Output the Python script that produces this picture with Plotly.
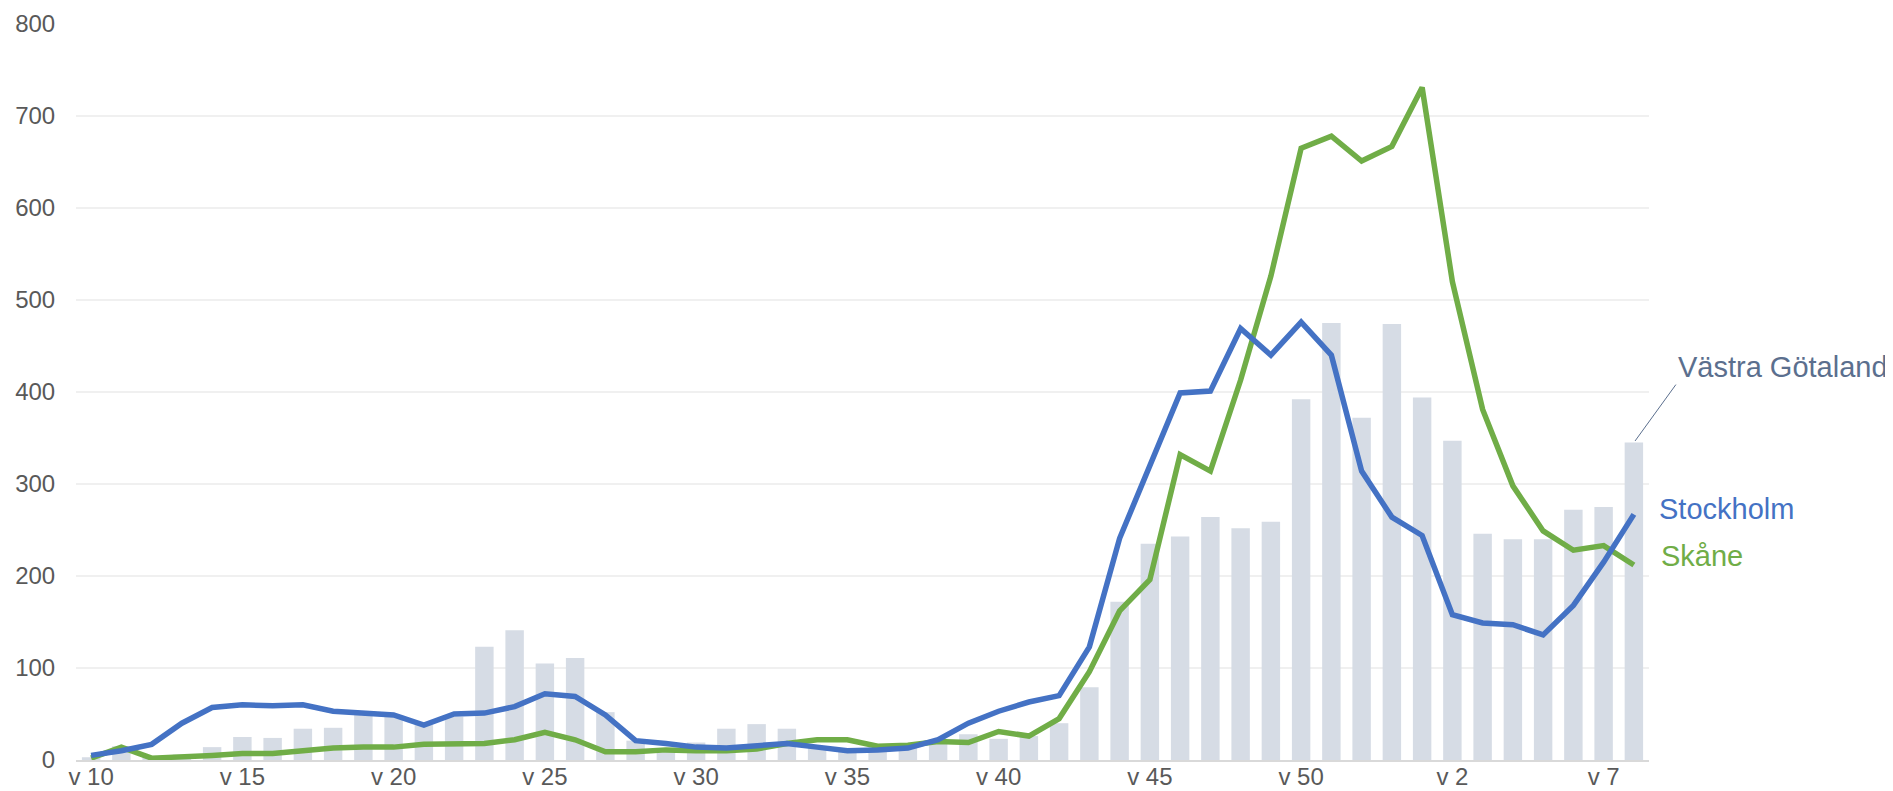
import plotly.graph_objects as go

weeks = ["v 10", "v 11", "v 12", "v 13", "v 14", "v 15", "v 16", "v 17", "v 18", "v 19",
         "v 20", "v 21", "v 22", "v 23", "v 24", "v 25", "v 26", "v 27", "v 28", "v 29",
         "v 30", "v 31", "v 32", "v 33", "v 34", "v 35", "v 36", "v 37", "v 38", "v 39",
         "v 40", "v 41", "v 42", "v 43", "v 44", "v 45", "v 46", "v 47", "v 48", "v 49",
         "v 50", "v 51", "v 52", "v 53",
         "v 1", "v 2", "v 3", "v 4", "v 5", "v 6", "v 7", "v 8"]

vastra_gotaland = [3, 15, 3, 6, 14, 25, 24, 34, 35, 49,
                   47, 38, 47, 123, 141, 105, 111, 52, 21, 13,
                   19, 34, 39, 34, 14, 11, 14, 16, 20, 28,
                   23, 26, 40, 79, 172, 235, 243, 264, 252, 259,
                   392, 475, 372, 474,
                   394, 347, 246, 240, 240, 272, 275, 345]

stockholm = [5, 10, 17, 40, 57, 60, 59, 60, 53, 51,
             49, 38, 50, 51, 58, 72, 69, 49, 21, 18,
             14, 13, 15, 18, 14, 10, 11, 13, 22, 40,
             53, 63, 70, 123, 241, 321, 399, 401, 469, 440,
             476, 440, 314, 264,
             244, 158, 149, 147, 136, 168, 215, 267]

skane = [2, 14, 2, 3, 5, 7, 7, 10, 13, 14,
         14, 17, 18, 18, 22, 30, 22, 9, 9, 11,
         10, 10, 12, 18, 22, 22, 15, 16, 20, 19,
         31, 26, 45, 96, 162, 196, 332, 314, 413, 526,
         665, 678, 651, 667,
         731, 520, 381, 298, 249, 228, 233, 212]

tick_labels = ["v 10", "v 15", "v 20", "v 25", "v 30", "v 35", "v 40", "v 45", "v 50", "v 2", "v 7"]

BLUE = "#4472C4"
GREEN = "#70AD47"
BAR = "#D6DCE5"
SLATE = "#5B6F8E"
FONT = "Liberation Sans, Arial, sans-serif"

fig = go.Figure()
fig.add_trace(go.Bar(x=weeks, y=vastra_gotaland, marker=dict(color=BAR, line=dict(width=0)),
                     name="Västra Götaland"))
fig.add_trace(go.Scatter(x=weeks, y=skane, mode="lines", line=dict(color=GREEN, width=5.5),
                         name="Skåne"))
fig.add_trace(go.Scatter(x=weeks, y=stockholm, mode="lines", line=dict(color=BLUE, width=5.5),
                         name="Stockholm"))

fig.add_annotation(x=weeks[-1], y=vastra_gotaland[-1], text="Västra Götaland",
                   showarrow=True, arrowhead=0, arrowwidth=1, arrowcolor=SLATE,
                   ax=42, ay=-58, xanchor="left", yanchor="bottom", standoff=2,
                   font=dict(family=FONT, size=29, color=SLATE))
fig.add_annotation(x=weeks[-1], y=stockholm[-1], text="Stockholm", showarrow=False,
                   xanchor="left", yanchor="middle", xshift=23, yshift=5,
                   font=dict(family=FONT, size=29, color=BLUE))
fig.add_annotation(x=weeks[-1], y=skane[-1], text="Skåne", showarrow=False,
                   xanchor="left", yanchor="middle", xshift=25, yshift=9,
                   font=dict(family=FONT, size=29, color=GREEN))

# the page body has an 8px default margin, so the figure starts at (8, 8)
fig.update_layout(
    width=1885, height=783,
    margin=dict(l=68, r=244, t=16, b=31),
    plot_bgcolor="white", paper_bgcolor="white",
    showlegend=False, bargap=0.39,
    font=dict(family=FONT, size=24, color="#595959"),
)
fig.update_xaxes(type="category", range=[-0.5, len(weeks) - 0.5], automargin=False,
                 tickmode="array", tickvals=tick_labels, ticktext=tick_labels,
                 showgrid=False, showline=True, linecolor="#D9D9D9", linewidth=2,
                 ticks="outside", ticklen=3, tickcolor="rgba(0,0,0,0)",
                 ticklabelstandoff=-9,
                 tickfont=dict(family=FONT, size=24, color="#595959"))
fig.update_yaxes(range=[0, 800], dtick=100, showgrid=True, gridcolor="#F0F0F0", gridwidth=2,
                 zeroline=False, showline=False, automargin=False,
                 ticks="outside", ticklen=15, tickcolor="rgba(0,0,0,0)",
                 tickfont=dict(family=FONT, size=24, color="#595959"))

fig.write_html("out.html")
